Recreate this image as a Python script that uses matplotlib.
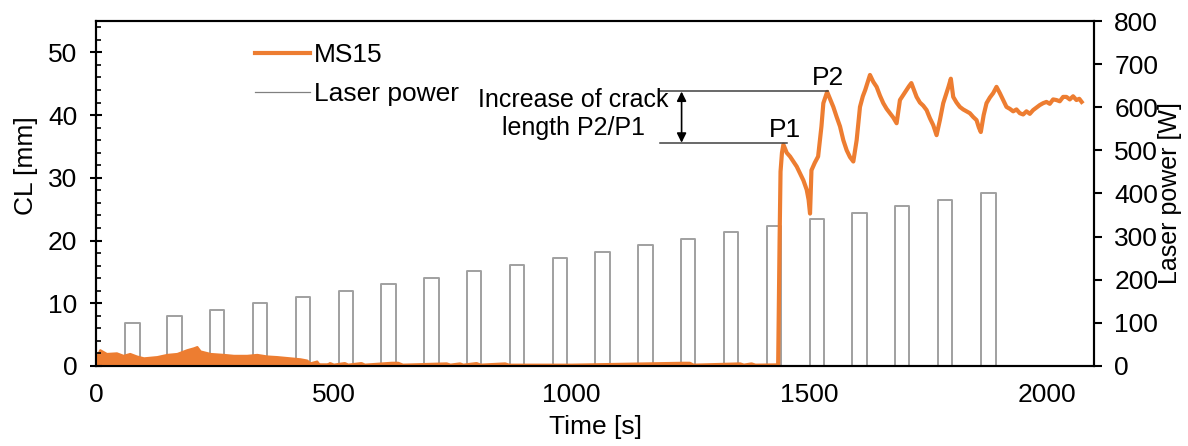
import matplotlib
matplotlib.use("Agg")
import matplotlib.pyplot as plt
from matplotlib.lines import Line2D
from matplotlib.ticker import MultipleLocator

plt.rcParams['font.family'] = ['Liberation Sans', 'DejaVu Sans']

# laser pulses: start time [s], end time [s], power [W]
pulse_start = [60, 150, 240, 330, 420, 510, 600, 690, 780, 870, 960,
               1050, 1140, 1230, 1320, 1410, 1500, 1590, 1680, 1770, 1860]
pulse_end = [92, 180, 270, 360, 450, 540, 630, 720, 810, 900, 990,
             1080, 1170, 1260, 1350, 1440, 1530, 1620, 1710, 1800, 1892]
pulse_power = [100, 115, 130, 145, 160, 175, 190, 205, 220, 235, 250,
               265, 280, 295, 310, 325, 340, 355, 370, 385, 400]

# early noisy crack-length band (0-470 s): envelope
band_t = [0, 8, 22, 43, 57, 71, 85, 100, 128, 149, 170, 191, 205, 212, 219,
          240, 268, 289, 317, 338, 359, 380, 408, 429, 443, 450, 464, 470]
band_hi = [1.4, 2.6, 2.0, 2.1, 1.7, 2.0, 1.6, 1.3, 1.5, 1.85, 2.0, 2.6, 2.9,
           3.1, 2.4, 2.0, 1.85, 1.7, 1.7, 1.85, 1.6, 1.5, 1.3, 1.15, 0.95,
           0.5, 0.8, 0.2]
band_lo = [0, 0, 0, 0, 0, 0, 0, 0, 0, 0, 0, 0, 0, 0, 0, 0, 0, 0, 0, 0, 0,
           0, 0, 0, 0, 0, 0, 0]

# MS15 crack length after 470 s
ms15_t = [470, 490, 492, 500, 523, 530, 558, 565, 622, 635, 645, 737, 745,
          765, 772, 800, 808, 860, 868, 1000, 1234, 1248, 1256, 1354, 1362,
          1378, 1386, 1434, 1437, 1439, 1442, 1445, 1452, 1459, 1466, 1473,
          1480, 1487, 1494, 1498, 1501, 1504, 1511, 1518, 1525, 1529, 1533,
          1537, 1543, 1550, 1557, 1564, 1571, 1578, 1585, 1592, 1599, 1606,
          1612, 1617, 1622, 1627, 1634, 1641, 1648, 1655, 1662, 1669, 1676,
          1683, 1690, 1697, 1704, 1709, 1714, 1720, 1725, 1732, 1739, 1746,
          1753, 1760, 1767, 1774, 1781, 1787, 1792, 1797, 1802, 1809, 1816,
          1823, 1830, 1837, 1844, 1851, 1856, 1860, 1866, 1872, 1879, 1886,
          1893, 1900, 1907, 1914, 1921, 1928, 1935, 1942, 1949, 1956, 1963,
          1970, 1977, 1984, 1991, 1998, 2005, 2012, 2019, 2026, 2033, 2040,
          2047, 2054, 2061, 2067, 2072]
ms15_cl = [0.1, 0.1, 0.3, 0.05, 0.3, 0.05, 0.3, 0.05, 0.35, 0.35, 0.05, 0.25,
           0.05, 0.25, 0.05, 0.3, 0.05, 0.25, 0.05, 0.05, 0.35, 0.35, 0.05, 0.25,
           0.05, 0.25, 0.05, 0.1, 20, 31, 34, 35.3, 34.0, 33.4, 32.6, 31.8,
           30.7, 29.6, 28.1, 26.5, 24.3, 31.2, 32.4, 33.4, 38.2, 41.9, 42.8,
           43.7, 42.6, 41.3, 39.7, 38.2, 36.0, 34.4, 33.3, 32.6, 36.0, 41.3,
           43.0, 44.0, 45.2, 46.4, 45.3, 44.5, 43.1, 41.9, 41.0, 40.3, 39.6,
           38.7, 42.4, 43.2, 44.0, 44.6, 45.1, 43.9, 42.9, 42.0, 41.5, 40.8,
           39.5, 38.4, 36.8, 39.2, 41.9, 43.3, 44.5, 45.8, 42.9, 42.0, 41.3,
           40.9, 40.6, 40.3, 39.7, 39.2, 38.0, 37.3, 40.0, 41.9, 42.8, 43.5,
           44.5, 43.5, 42.4, 41.3, 41.0, 40.6, 40.9, 40.3, 40.1, 40.6, 40.2,
           40.8, 41.2, 41.6, 41.9, 42.1, 41.8, 42.5, 42.4, 42.2, 42.9, 42.9,
           42.5, 43.0, 42.4, 42.6, 42.1]

orange = '#ED7D31'
grey = '#A0A0A0'
fs = 19

fig = plt.figure(figsize=(11.88, 4.46), dpi=100)
ax = fig.add_axes([0.0808, 0.1794, 0.8401, 0.7735])
ax2 = ax.twinx()

# laser power as a pulse line
lt, lp = [0], [0]
for s, e, p in zip(pulse_start, pulse_end, pulse_power):
    lt += [s, s, e, e]
    lp += [0, p, p, 0]
lt.append(2098)
lp.append(0)
ax2.plot(lt, lp, color=grey, lw=1.4)

ax.set_zorder(ax2.get_zorder() + 1)
ax.patch.set_visible(False)

ax.fill_between(band_t, band_lo, band_hi, color=orange, lw=1.5, edgecolor=orange)
ax.plot(ms15_t, ms15_cl, color=orange, lw=3.0, solid_joinstyle='round')

ax.set_xlim(0, 2098)
ax.set_ylim(0, 55)
ax2.set_ylim(0, 800)

ax.set_xticks([0, 500, 1000, 1500, 2000])
ax.set_yticks([0, 10, 20, 30, 40, 50])
ax.yaxis.set_minor_locator(MultipleLocator(2))
ax2.set_yticks(range(0, 801, 100))

ax.tick_params(axis='x', length=0, pad=12, labelsize=fs)
ax.tick_params(axis='y', which='major', direction='inout', length=9, width=1.5, pad=9, labelsize=fs)
ax.tick_params(axis='y', which='minor', direction='in', length=3.5, width=1.2)
ax2.tick_params(axis='y', direction='out', length=5.5, width=1.5, pad=9, labelsize=fs)

for a in (ax, ax2):
    for sp in a.spines.values():
        sp.set_linewidth(1.5)
        sp.set_color('black')

ax.set_xlabel('Time [s]', fontsize=fs, labelpad=6)
ax.set_ylabel('CL [mm]', fontsize=fs)
ax.yaxis.set_label_coords(-0.058, 0.58)
ax2.set_ylabel('Laser power [W]', fontsize=fs - 1)
ax2.yaxis.set_label_coords(1.064, 0.5)

# annotation of crack length increase
ax.plot([1186, 1539], [43.85, 43.85], color='#404040', lw=1.1)
ax.plot([1186, 1452], [35.5, 35.5], color='#404040', lw=1.1)
ax.annotate('', xy=(1231, 43.75), xytext=(1231, 35.6),
            arrowprops=dict(arrowstyle='<|-|>', color='black', lw=1.2,
                            mutation_scale=14, shrinkA=0, shrinkB=0))
ax.text(1003, 40.2, 'Increase of crack\nlength P2/P1', ha='center', va='center',
        fontsize=fs - 1, linespacing=1.2)
ax.text(1448, 37.6, 'P1', ha='center', va='center', fontsize=fs)
ax.text(1538, 45.9, 'P2', ha='center', va='center', fontsize=fs)

handles = [Line2D([], [], color=orange, lw=3),
           Line2D([], [], color='#808080', lw=0.9)]
ax.legend(handles, ['MS15', 'Laser power'], loc='upper left',
          bbox_to_anchor=(0.159, 0.935), frameon=False, fontsize=fs,
          borderaxespad=0, borderpad=0, handlelength=2.1,
          handletextpad=0.15, labelspacing=0.55)

fig.savefig('out.png', dpi=100)
